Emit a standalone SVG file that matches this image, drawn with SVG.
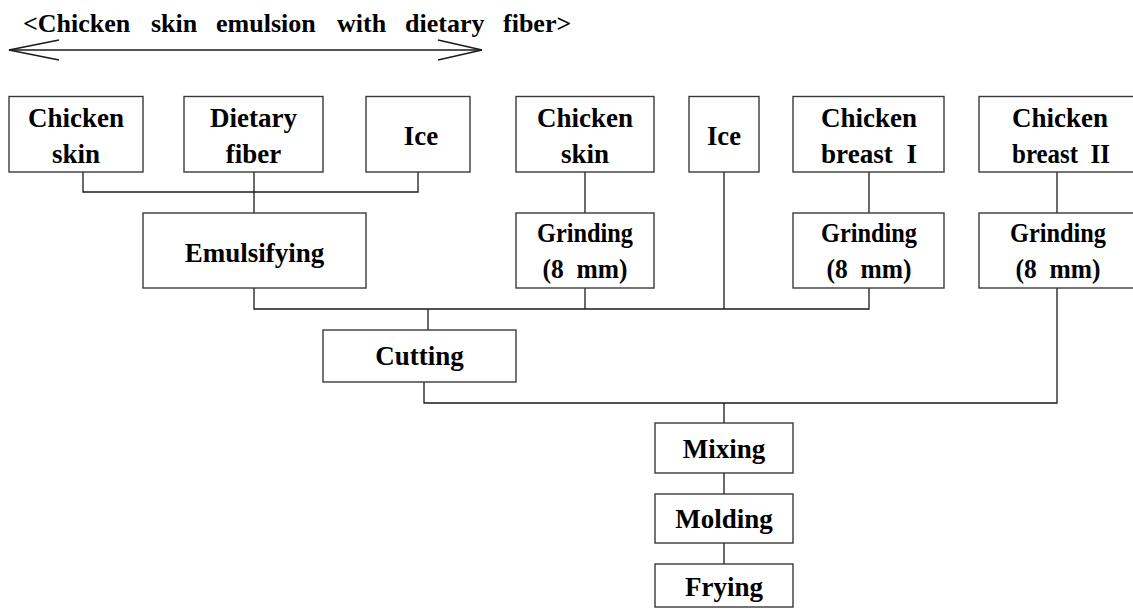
<svg xmlns="http://www.w3.org/2000/svg" width="1133" height="609" viewBox="0 0 1133 609">
  <style>
    .box { fill: #ffffff; stroke: #3a3a3a; stroke-width: 1.4; }
    .lbl { font-family: 'Liberation Serif', 'DejaVu Serif', serif; font-weight: bold; font-size: 27px; fill: #000; text-anchor: middle; }
    .title { font-family: 'Liberation Serif', 'DejaVu Serif', serif; font-weight: bold; font-size: 26px; fill: #000; }
    .wire { fill: none; stroke: #1a1a1a; stroke-width: 1.3; }
    .span { fill: none; stroke: #1a1a1a; stroke-width: 1.4; }
  </style>

  <!-- heading and its double-headed span bracket -->
  <g id="heading">
    <text class="title" y="32"><tspan x="23">&lt;Chicken</tspan><tspan x="151">skin</tspan><tspan x="216">emulsion</tspan><tspan x="337">with</tspan><tspan x="405">dietary</tspan><tspan x="503">fiber&gt;</tspan></text>
  </g>
  <g id="span-arrow">
    <line class="span" x1="9" y1="50" x2="482" y2="50"/>
    <polyline class="span" points="59,40 9,50 59,60"/>
    <polyline class="span" points="438,40 482,50 438,60"/>
  </g>

  <!-- connectors -->
  <g id="connectors">
    <polyline class="wire" points="83,172 83,192 418,192 418,172"/>
    <line class="wire" x1="254" y1="172" x2="254" y2="213"/>
    <line class="wire" x1="585" y1="172" x2="585" y2="213"/>
    <line class="wire" x1="869" y1="172" x2="869" y2="213"/>
    <line class="wire" x1="1057" y1="172" x2="1057" y2="213"/>
    <polyline class="wire" points="254,288 254,309 869,309 869,288"/>
    <line class="wire" x1="585" y1="288" x2="585" y2="309"/>
    <line class="wire" x1="724" y1="172" x2="724" y2="309"/>
    <line class="wire" x1="428" y1="309" x2="428" y2="330"/>
    <polyline class="wire" points="424,382 424,403 1057,403 1057,288"/>
    <line class="wire" x1="724" y1="403" x2="724" y2="423"/>
    <line class="wire" x1="724" y1="473" x2="724" y2="494"/>
    <line class="wire" x1="724" y1="543" x2="724" y2="564"/>
  </g>

  <!-- raw materials -->
  <g id="chicken-skin-a">
    <rect class="box" x="9" y="96.5" width="134" height="75.5"/>
    <text class="lbl" x="76" y="127">Chicken</text>
    <text class="lbl" x="76" y="163">skin</text>
  </g>
  <g id="dietary-fiber">
    <rect class="box" x="184" y="96.5" width="139" height="75.5"/>
    <text class="lbl" x="253.5" y="127">Dietary</text>
    <text class="lbl" x="253.5" y="163">fiber</text>
  </g>
  <g id="ice-a">
    <rect class="box" x="366" y="96.5" width="104" height="75.5"/>
    <text class="lbl" x="421" y="145">Ice</text>
  </g>
  <g id="chicken-skin-b">
    <rect class="box" x="516" y="96.5" width="138" height="75.5"/>
    <text class="lbl" x="585" y="127">Chicken</text>
    <text class="lbl" x="585" y="163">skin</text>
  </g>
  <g id="ice-b">
    <rect class="box" x="689" y="96.5" width="70" height="75.5"/>
    <text class="lbl" x="724" y="145" textLength="34" lengthAdjust="spacingAndGlyphs">Ice</text>
  </g>
  <g id="chicken-breast-1">
    <rect class="box" x="793" y="96.5" width="151" height="75.5"/>
    <text class="lbl" x="869" y="127">Chicken</text>
    <text class="lbl" x="869" y="163" xml:space="preserve" textLength="96" lengthAdjust="spacingAndGlyphs">breast  I</text>
  </g>
  <g id="chicken-breast-2">
    <rect class="box" x="979" y="96.5" width="160" height="75.5"/>
    <text class="lbl" x="1060" y="127">Chicken</text>
    <text class="lbl" x="1061" y="163" xml:space="preserve" textLength="98" lengthAdjust="spacingAndGlyphs">breast  II</text>
  </g>

  <!-- processing steps -->
  <g id="emulsifying">
    <rect class="box" x="143" y="213" width="223" height="75"/>
    <text class="lbl" x="254.5" y="262">Emulsifying</text>
  </g>
  <g id="grinding-skin">
    <rect class="box" x="516" y="213" width="138" height="75"/>
    <text class="lbl" x="585" y="242" textLength="96" lengthAdjust="spacingAndGlyphs">Grinding</text>
    <text class="lbl" x="585" y="278" xml:space="preserve" textLength="85" lengthAdjust="spacingAndGlyphs">(8  mm)</text>
  </g>
  <g id="grinding-breast-1">
    <rect class="box" x="793" y="213" width="151" height="75"/>
    <text class="lbl" x="869" y="242" textLength="96" lengthAdjust="spacingAndGlyphs">Grinding</text>
    <text class="lbl" x="869" y="278" xml:space="preserve" textLength="85" lengthAdjust="spacingAndGlyphs">(8  mm)</text>
  </g>
  <g id="grinding-breast-2">
    <rect class="box" x="979" y="213" width="160" height="75"/>
    <text class="lbl" x="1058" y="242" textLength="96" lengthAdjust="spacingAndGlyphs">Grinding</text>
    <text class="lbl" x="1058" y="278" xml:space="preserve" textLength="85" lengthAdjust="spacingAndGlyphs">(8  mm)</text>
  </g>
  <g id="cutting">
    <rect class="box" x="323" y="330" width="193" height="52"/>
    <text class="lbl" x="419.5" y="365">Cutting</text>
  </g>
  <g id="mixing">
    <rect class="box" x="655" y="423" width="138" height="50"/>
    <text class="lbl" x="724" y="458">Mixing</text>
  </g>
  <g id="molding">
    <rect class="box" x="655" y="494" width="138" height="49"/>
    <text class="lbl" x="724" y="528">Molding</text>
  </g>
  <g id="frying">
    <rect class="box" x="655" y="564" width="138" height="43"/>
    <text class="lbl" x="724" y="596">Frying</text>
  </g>
</svg>
